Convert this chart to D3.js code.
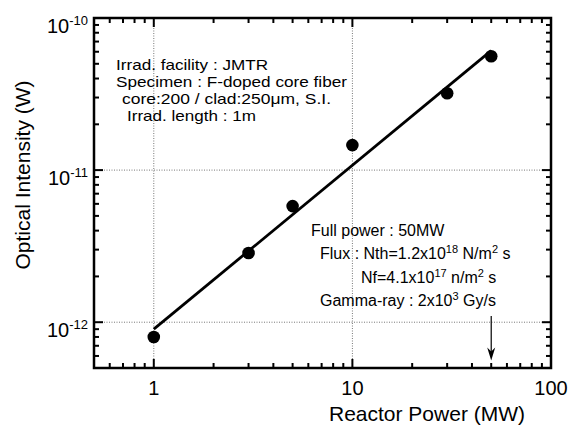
<!DOCTYPE html>
<html>
<head>
<meta charset="utf-8">
<script src="https://cdn.jsdelivr.net/npm/d3@7"></script>
<style>
  body { margin: 0; background: #fff; }
  svg { display: block; font-family: "Liberation Sans", Arial, Helvetica, sans-serif; }
</style>
</head>
<body>
<svg id="chart" width="568" height="426"></svg>
<script>
// data
const powerMW = [1, 3, 5, 10, 30, 50];
const intensityW = [8.0e-13, 2.85e-12, 5.8e-12, 1.46e-11, 3.2e-11, 5.6e-11];
const fitPower = [1, 50];
const fitIntensity = [9.0e-13, 6.1e-11];
const arrowPower = 50;
const arrowFrom = 1.1e-12;
const arrowTo = 5.6e-13;
const xMajor = [1, 10, 100];
const yExponents = [-12, -11, -10];
const xGrid = [1, 10];
const yGrid = [1e-12, 1e-11];

const width = 568, height = 426;
const margin = { top: 18, left: 94, bottom: 58, right: 17 };

const svg = d3.select("#chart");

const x = d3.scaleLog().domain([0.5, 100]).range([margin.left, width - margin.right]);
const y = d3.scaleLog().domain([5e-13, 1e-10]).range([height - margin.bottom, margin.top]);

const x0 = x.range()[0], x1 = x.range()[1];
const y0 = y.range()[0], y1 = y.range()[1];

// grid
svg.append("g").selectAll("line.gx")
    .data(xGrid)
    .join("line")
    .attr("x1", d => x(d)).attr("x2", d => x(d))
    .attr("y1", y1).attr("y2", y0)
    .attr("stroke", "#777").attr("stroke-width", 1)
    .attr("stroke-dasharray", "1,1.5");

svg.append("g").selectAll("line.gy")
    .data(yGrid)
    .join("line")
    .attr("x1", x0).attr("x2", x1)
    .attr("y1", d => y(d)).attr("y2", d => y(d))
    .attr("stroke", "#777").attr("stroke-width", 1)
    .attr("stroke-dasharray", "1,1.5");

// ticks (inside, mirrored on all sides)
const isMajor = v => Math.abs(Math.log10(v) - Math.round(Math.log10(v))) < 1e-6;
const xTicks = x.ticks().filter(v => v > 0.5 && v < 100);
const yTicks = y.ticks().filter(v => v > 5e-13 * 1.01 && v < 1e-10 * 0.99);
const major = 9, minor = 5;

const ticks = svg.append("g").attr("stroke", "#000").attr("stroke-width", 2);
ticks.selectAll("line.xb").data(xTicks).join("line")
    .attr("x1", d => x(d)).attr("x2", d => x(d))
    .attr("y1", y0).attr("y2", d => y0 - (isMajor(d) ? major : minor));
ticks.selectAll("line.xt").data(xTicks).join("line")
    .attr("x1", d => x(d)).attr("x2", d => x(d))
    .attr("y1", y1).attr("y2", d => y1 + (isMajor(d) ? major : minor));
ticks.selectAll("line.yl").data(yTicks).join("line")
    .attr("y1", d => y(d)).attr("y2", d => y(d))
    .attr("x1", x0).attr("x2", d => x0 + (isMajor(d) ? major : minor));
ticks.selectAll("line.yr").data(yTicks).join("line")
    .attr("y1", d => y(d)).attr("y2", d => y(d))
    .attr("x1", x1).attr("x2", d => x1 - (isMajor(d) ? major : minor));

// frame
svg.append("rect")
    .attr("x", x0).attr("y", y1)
    .attr("width", x1 - x0).attr("height", y0 - y1)
    .attr("fill", "none").attr("stroke", "#000").attr("stroke-width", 2.5);

// tick labels
svg.append("g").selectAll("text")
    .data(xMajor)
    .join("text")
    .attr("x", d => x(d))
    .attr("y", y0 + 27)
    .attr("text-anchor", "middle")
    .attr("font-size", 20)
    .text(d => d);

const yl = svg.append("g").selectAll("text")
    .data(yExponents)
    .join("text")
    .attr("x", x0 - 6)
    .attr("y", d => y(Math.pow(10, d)) + 15)
    .attr("text-anchor", "end")
    .attr("font-size", 20);
yl.append("tspan").text("10");
yl.append("tspan").attr("dy", -8).attr("font-size", 13).text(d => d);

// axis titles
svg.append("text")
    .attr("x", 427).attr("y", 421)
    .attr("text-anchor", "middle")
    .attr("font-size", 21)
    .text("Reactor Power (MW)");

svg.append("text")
    .attr("transform", "translate(30,175) rotate(-90)")
    .attr("text-anchor", "middle")
    .attr("font-size", 21)
    .text("Optical Intensity (W)");

// fit line
svg.append("path")
    .datum(d3.zip(fitPower, fitIntensity))
    .attr("d", d3.line().x(d => x(d[0])).y(d => y(d[1])))
    .attr("fill", "none").attr("stroke", "#000").attr("stroke-width", 2.8);

// points
svg.append("g").selectAll("circle")
    .data(d3.zip(powerMW, intensityW))
    .join("circle")
    .attr("cx", d => x(d[0]))
    .attr("cy", d => y(d[1]))
    .attr("r", 6.3)
    .attr("fill", "#000");

// arrow
svg.append("line")
    .attr("x1", x(arrowPower)).attr("x2", x(arrowPower))
    .attr("y1", y(arrowFrom)).attr("y2", y(arrowTo) - 6)
    .attr("stroke", "#000").attr("stroke-width", 1.2);
const ax = x(arrowPower), ay = y(arrowTo);
svg.append("path")
    .attr("d", `M${ax},${ay} L${ax - 4},${ay - 13} L${ax},${ay - 9} L${ax + 4},${ay - 13} Z`)
    .attr("fill", "#000");

// annotation block 1
const note1 = [
    { t: "Irrad. facility : JMTR", x: 116, y: 69.5, w: 152 },
    { t: "Specimen : F-doped core fiber", x: 116, y: 86.5, w: 231 },
    { t: "core:200 / clad:250μm, S.I.", x: 122, y: 103.5, w: 209 },
    { t: "Irrad. length : 1m", x: 127, y: 120.5, w: 129 }
];
svg.append("g").selectAll("text")
    .data(note1)
    .join("text")
    .attr("x", d => d.x).attr("y", d => d.y)
    .attr("font-size", 14.8)
    .attr("textLength", d => d.w)
    .attr("lengthAdjust", "spacingAndGlyphs")
    .text(d => d.t);

// annotation block 2 (with superscripts)
const note2 = [
    { x: 311, y: 236, parts: [["Full power : 50MW", 0]] },
    { x: 320, y: 259, parts: [["Flux : Nth=1.2x10", 0], ["18", 1], [" N/m", 0], ["2", 1], [" s", 0]] },
    { x: 361, y: 283, parts: [["Nf=4.1x10", 0], ["17", 1], [" n/m", 0], ["2", 1], [" s", 0]] },
    { x: 320, y: 306, parts: [["Gamma-ray : 2x10", 0], ["3", 1], [" Gy/s", 0]] }
];
const n2 = svg.append("g").selectAll("text")
    .data(note2)
    .join("text")
    .attr("x", d => d.x).attr("y", d => d.y)
    .attr("font-size", 16);
n2.each(function (d) {
    const t = d3.select(this);
    let raised = false;
    for (const [s, sup] of d.parts) {
        const sp = t.append("tspan").text(s);
        if (sup && !raised) { sp.attr("dy", -6).attr("font-size", 11); raised = true; }
        else if (sup && raised) { sp.attr("font-size", 11); }
        else if (!sup && raised) { sp.attr("dy", 6); raised = false; }
    }
});
</script>
</body>
</html>
